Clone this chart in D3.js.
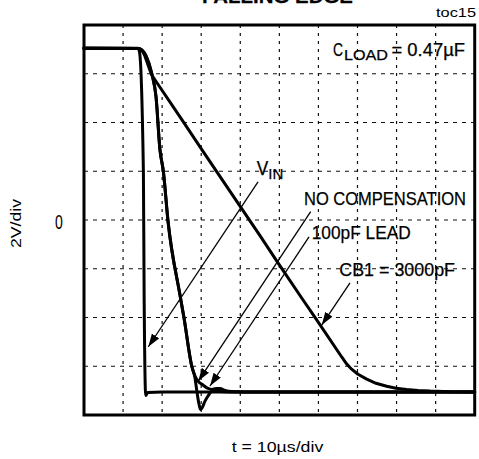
<!DOCTYPE html>
<html><head><meta charset="utf-8">
<script src="https://cdn.jsdelivr.net/npm/d3@7"></script>
<style>
html,body{margin:0;padding:0;background:#fff;}
svg{display:block;}
text{font-family:"Liberation Sans",Arial,sans-serif;fill:#000;stroke:#000;stroke-width:0.25px;}
text.plain{stroke:none;}
</style></head>
<body>
<script>
// ---- data (time in µs, voltage in V; 10µs/div, 2V/div) ----
const xTicks = [10,20,30,40,50,60,70,80,90];
const yTicks = [-6,-4,-2,0,2,4,6];

const vinT = [0, 13.8, 14.2, 15.2, 15.4, 15.8, 16.3, 20, 100];
const vinV = [7.05, 7.05, 6.9, 2.0, -3.3, -7.2, -7.08, -7.06, -7.06];

const noCompT = [0, 13.9, 14.85, 15.87, 17.33, 18.43, 19.45, 20.3, 21.5, 24.57, 25.6, 27.57, 28.41, 29.18, 30.46, 31.74, 32.76, 33.79, 34.81, 36.09, 37.88, 41.21, 100];
const noCompV = [7.05, 7.04, 6.97, 6.73, 6.02, 5.06, 2.87, 2.01, -0.04, -3.08, -4.02, -5.99, -6.4, -6.61, -6.77, -6.91, -6.95, -6.91, -6.91, -6.99, -7.04, -7.06, -7.06];

const leadT = [0, 13.9, 14.85, 15.87, 17.33, 18.43, 19.45, 20.3, 21.5, 24.57, 25.6, 27.57, 28.41, 28.92, 29.43, 29.82, 30.2, 30.97, 31.74, 32.68, 33.53, 34.81, 37.37, 100];
const leadV = [7.05, 7.04, 6.97, 6.73, 6.02, 5.06, 2.87, 2.01, -0.04, -3.08, -4.02, -5.99, -6.48, -7.06, -7.55, -7.77, -7.71, -7.43, -7.22, -7.02, -6.97, -7.04, -7.06, -7.06];

const cb1T = [0, 13.9, 14.5, 15.1, 15.6, 16.12, 16.7, 17.33, 25, 30.12, 35, 39.93, 45, 49.65, 55.72, 59.56, 65.96, 67.2, 68.5, 70.13, 72.36, 74.74, 77.48, 79.86, 82.6, 85.5, 88.56, 93.68, 100];
const cb1V = [7.05, 7.04, 7.0, 6.89, 6.72, 6.48, 6.22, 5.95, 4.13, 2.9, 1.74, 0.57, -0.63, -1.76, -3.2, -4.1, -5.62, -5.9, -6.12, -6.33, -6.53, -6.7, -6.82, -6.9, -6.95, -6.99, -7.02, -7.05, -7.06];

// annotation arrows [startT, startV, endT, endV]
const arrowVin = [44.54, 1.56, 16.46, -5.2];
const arrowNoComp = [58.02, 0.34, 29.25, -6.61];
const arrowLead = [57.59, -0.69, 32.25, -6.81];
const arrowCb1 = [68.08, -2.58, 60.84, -4.31];

const W = 479, H = 459;
const svg = d3.select("body").append("svg").attr("width", W).attr("height", H);

const x = d3.scaleLinear().domain([0, 100]).range([84, 474.7]);
const y = d3.scaleLinear().domain([-8, 8]).range([415, 25]);

// grid
svg.append("g").selectAll("line").data(xTicks).join("line")
  .attr("x1", d => x(d)).attr("x2", d => x(d))
  .attr("y1", y(8)).attr("y2", y(-8))
  .attr("stroke", "#111").attr("stroke-width", 1.2).attr("stroke-dasharray", "3,5");
svg.append("g").selectAll("line").data(yTicks).join("line")
  .attr("y1", d => y(d)).attr("y2", d => y(d))
  .attr("x1", x(0)).attr("x2", x(100))
  .attr("stroke", "#111").attr("stroke-width", 1.2).attr("stroke-dasharray", "4,5");

// frame
svg.append("rect").attr("x", x(0)).attr("y", y(8))
  .attr("width", x(100) - x(0)).attr("height", y(-8) - y(8))
  .attr("fill", "none").attr("stroke", "#000").attr("stroke-width", 3);

// curves
function series(T, V) { return T.map((t, i) => [t, V[i]]); }
const smooth = d3.line().x(d => x(d[0])).y(d => y(d[1])).curve(d3.curveMonotoneX);
const straight = d3.line().x(d => x(d[0])).y(d => y(d[1])).curve(d3.curveLinear);
[[cb1T, cb1V, straight], [noCompT, noCompV, smooth], [leadT, leadV, smooth], [vinT, vinV, smooth]].forEach(([T, V, gen]) => {
  svg.append("path").attr("d", gen(series(T, V)))
    .attr("fill", "none").attr("stroke", "#000").attr("stroke-width", 3)
    .attr("stroke-linejoin", "round").attr("stroke-linecap", "round");
});

// arrow marker
svg.append("defs").append("marker").attr("id", "ah")
  .attr("viewBox", "0 0 12 8").attr("refX", 12).attr("refY", 4)
  .attr("markerWidth", 13).attr("markerHeight", 9)
  .attr("markerUnits", "userSpaceOnUse").attr("orient", "auto")
  .append("path").attr("d", "M0,0 L12,4 L0,8 Z").attr("fill", "#000");

[arrowVin, arrowNoComp, arrowLead, arrowCb1].forEach(a => {
  svg.append("line")
    .attr("x1", x(a[0])).attr("y1", y(a[1]))
    .attr("x2", x(a[2])).attr("y2", y(a[3]))
    .attr("stroke", "#000").attr("stroke-width", 1.3)
    .attr("marker-end", "url(#ah)");
});

// text helper
function txt(str, px, py, size, len, opts = {}) {
  const t = svg.append("text").attr("x", px).attr("y", py)
    .attr("font-size", size).text(str);
  if (len) t.attr("textLength", len).attr("lengthAdjust", "spacingAndGlyphs");
  if (opts.bold) t.attr("font-weight", "bold");
  if (opts.plain) t.attr("class", "plain");
  if (opts.transform) t.attr("transform", opts.transform);
  return t;
}

txt("FALLING EDGE", 202, 2.5, 18, 151, {bold: true});
txt("toc15", 436, 17.3, 13, 40, {plain: true});

// C_LOAD label
txt("C", 333, 56, 17.5, 10);
txt("LOAD", 344, 59.5, 14, 44);
txt("= 0.47µF", 391.5, 56, 17.5, 73.5);

// annotations
txt("V", 256.7, 175, 19.5, 11.5);
txt("IN", 268.3, 178.5, 14.5, 15);
txt("NO COMPENSATION", 304, 205, 18, 162);
txt("100pF LEAD", 311.7, 239.3, 18.5, 99);
txt("CB1 = 3000pF", 339.3, 276, 18.5, 115.7);

// axis labels
txt("0", 55, 229, 20, 7.8, {plain: true});
txt("2V/div", 0, 0, 15.5, 49, {plain: true, transform: "translate(20.7,248) rotate(-90)"});
txt("t = 10µs/div", 231.7, 451.5, 15.5, 91.6, {plain: true});
</script>
</body></html>
